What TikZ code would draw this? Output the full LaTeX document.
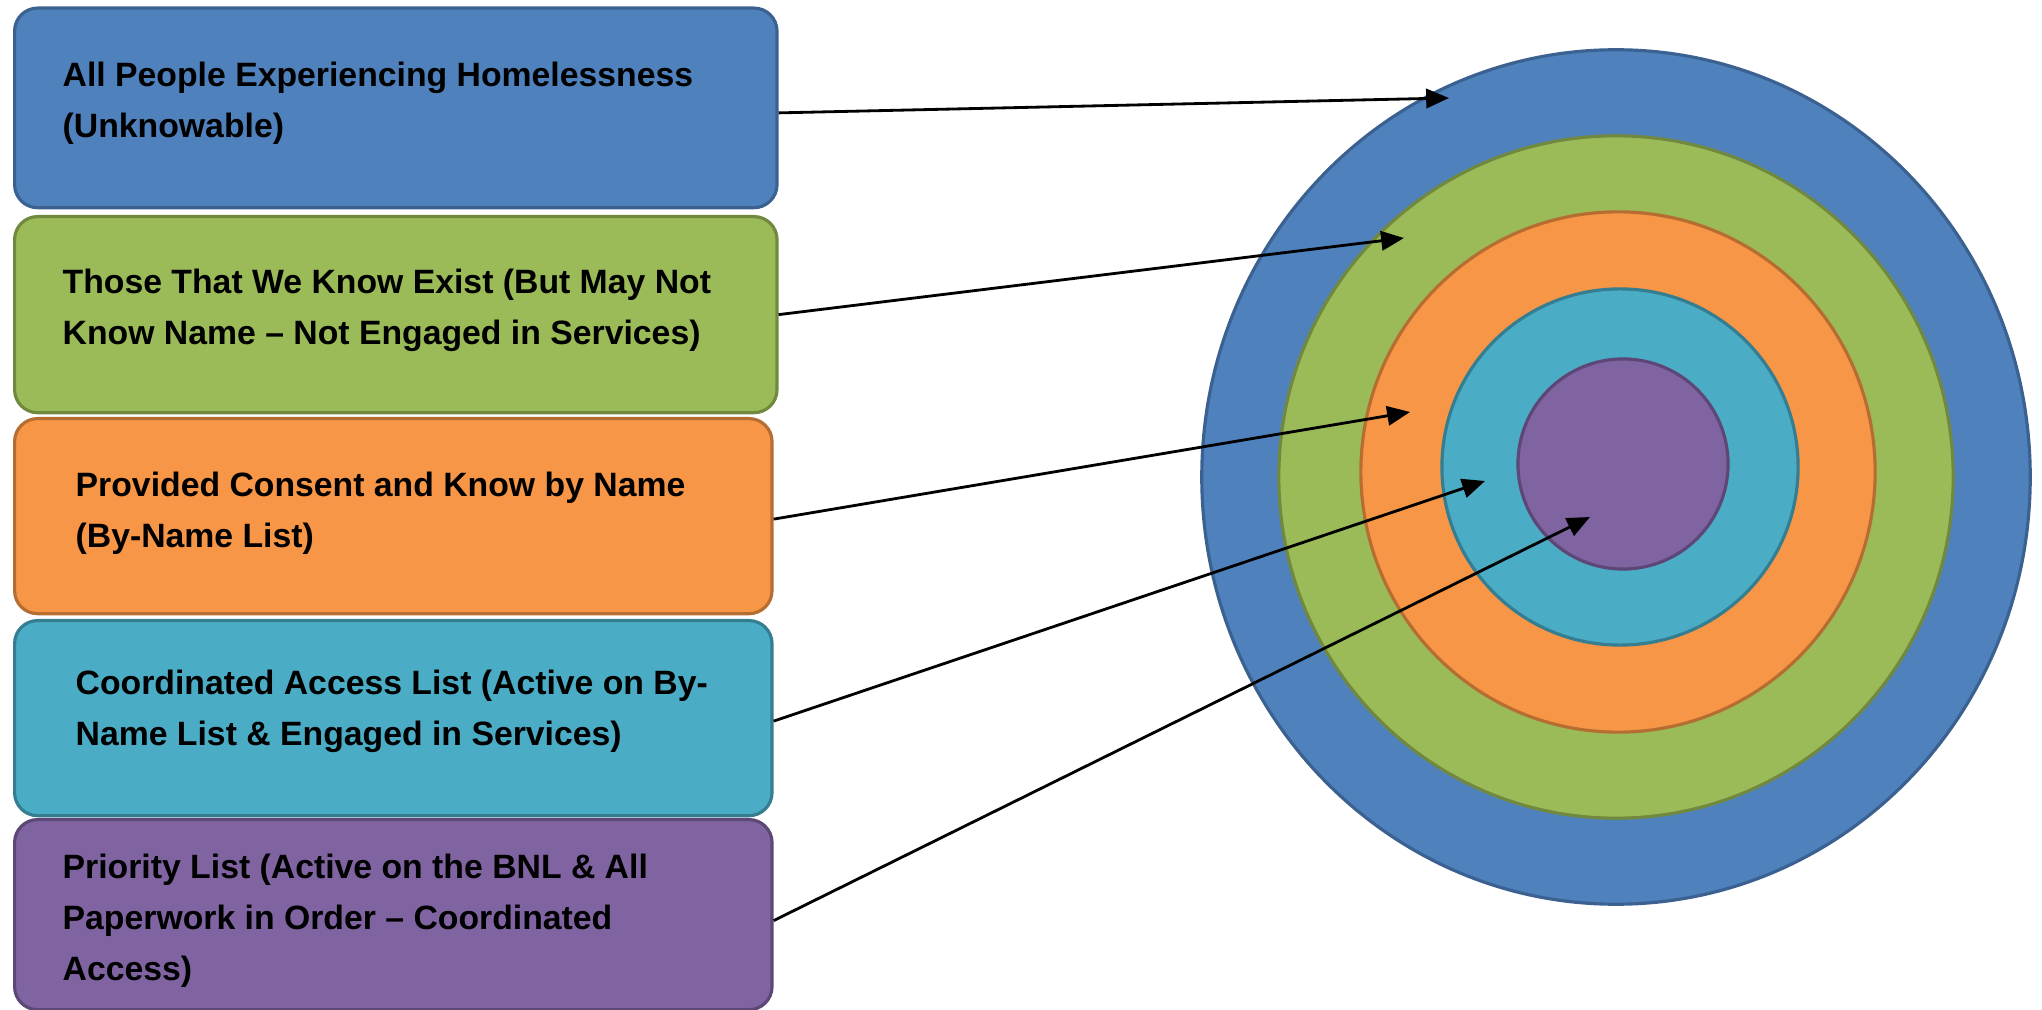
\documentclass[tikz,border=0pt]{standalone}
\usepackage{fontspec}
\setmainfont{Liberation Sans}
\usetikzlibrary{shapes.geometric,arrows.meta}
\definecolor{cblue}{HTML}{4F81BD}
\definecolor{cblueD}{HTML}{3A6190}
\definecolor{cgreen}{HTML}{9BBB59}
\definecolor{cgreenD}{HTML}{71893F}
\definecolor{corange}{HTML}{F79646}
\definecolor{corangeD}{HTML}{B66D31}
\definecolor{caqua}{HTML}{4BACC6}
\definecolor{caquaD}{HTML}{357D91}
\definecolor{cpurple}{HTML}{8064A2}
\definecolor{cpurpleD}{HTML}{5C4776}
\begin{document}
\begin{tikzpicture}[x=0.01cm,y=-0.01cm,
  box/.style={draw, line width=0.9pt, rounded corners=0.23cm, anchor=north west, inner sep=0pt, minimum width=7.62cm},
  lbl/.style={anchor=west, align=left, text=black, font=\fontsize{9.6}{14.5}\selectfont\bfseries, inner sep=0pt},
  ring/.style={ellipse, draw, line width=0.9pt, inner sep=0pt},
  arr/.style={-{Triangle[length=6.5pt,width=5.5pt]}, line width=0.8pt, black}]
\useasboundingbox (0,0) rectangle (2042,1010);
% boxes
\node[box, fill=cblue, draw=cblueD, minimum height=1.995cm] (b1) at (13,6.5) {};
\node[box, fill=cgreen, draw=cgreenD, minimum height=1.96cm] (b2) at (13,215) {};
\node[box, fill=corange, draw=corangeD, minimum height=1.95cm, minimum width=7.57cm] (b3) at (13,417) {};
\node[box, fill=caqua, draw=caquaD, minimum height=1.95cm, minimum width=7.57cm] (b4) at (13,619) {};
\node[box, fill=cpurple, draw=cpurpleD, minimum height=1.90cm, minimum width=7.57cm] (b5) at (13,818) {};
% labels
\node[lbl] (t1) at (62,103) {All People Experiencing Homelessness\\(Unknowable)};
\node[lbl] (t2) at (62,310) {Those That We Know Exist (But May Not\\Know Name -- Not Engaged in Services)};
\node[lbl] (t3) at (75,513) {Provided Consent and Know by Name\\(By-Name List)};
\node[lbl] (t4) at (75,711) {Coordinated Access List (Active on By-\\Name List \& Engaged in Services)};
\node[lbl] (t5) at (62,921) {Priority List (Active on the BNL \& All\\Paperwork in Order -- Coordinated\\Access)};
% rings
\node[ring, fill=cblue, draw=cblueD, minimum width=8.28cm, minimum height=8.54cm] (e1) at (1616,477) {};
\node[ring, fill=cgreen, draw=cgreenD, minimum width=6.74cm, minimum height=6.82cm] (e2) at (1616,477) {};
\node[ring, fill=corange, draw=corangeD, minimum width=5.14cm, minimum height=5.20cm] (e3) at (1618,472) {};
\node[ring, fill=caqua, draw=caquaD, minimum width=3.56cm, minimum height=3.56cm] (e4) at (1620,467) {};
\node[ring, fill=cpurple, draw=cpurpleD, minimum width=2.10cm, minimum height=2.10cm] (e5) at (1623,464) {};
% arrow targets
\coordinate (p1) at (1449,98);
\coordinate (p2) at (1404,238);
\coordinate (p3) at (1410,412);
\coordinate (p4) at (1485,481);
\coordinate (p5) at (1590,517);
\draw[arr] ([yshift=-0.05cm]b1.east) -- (p1);
\draw[arr] (b2.east) -- (p2);
\draw[arr] ([yshift=-0.03cm]b3.east) -- (p3);
\draw[arr] ([yshift=-0.03cm]b4.east) -- (p4);
\draw[arr] ([yshift=-0.06cm]b5.east) -- (p5);
\end{tikzpicture}
\end{document}
